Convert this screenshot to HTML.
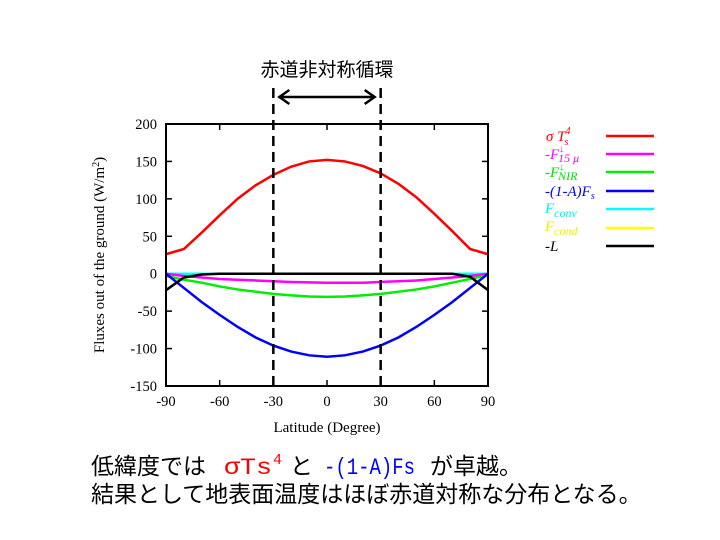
<!DOCTYPE html>
<html><head><meta charset="utf-8"><style>
body{margin:0;background:#fff;}
svg{display:block;font-family:"Liberation Serif","Noto Serif CJK SC",serif;}
.jp{font-family:"Liberation Sans","Noto Sans CJK JP",sans-serif;}
.mono{font-family:"Liberation Mono",monospace;}
</style></head><body>
<svg id="c" width="720" height="540" viewBox="0 0 720 540">
<text class="jp" x="327" y="76" font-size="19" text-anchor="middle">赤道非対称循環</text>
<g id="plot"></g>
<g font-style="italic" font-size="15">
 <g><text x="546" y="141" fill="#f00">σ T<tspan font-size="10" dy="-7">4</tspan><tspan font-size="10" dx="-6" dy="11">s</tspan></text><line x1="606" y1="136" x2="654" y2="136" stroke="#f00" stroke-width="2.5"/></g>
 <g><text x="545" y="159" fill="#f0f">-F<tspan font-size="10" dy="-7">↓</tspan><tspan font-size="12" dx="-6" dy="10">15 μ</tspan></text><line x1="606" y1="154" x2="654" y2="154" stroke="#f0f" stroke-width="2.5"/></g>
 <g><text x="545" y="177" fill="#0d0">-F<tspan font-size="10" dy="-7">↓</tspan><tspan font-size="12" dx="-6" dy="10">NIR</tspan></text><line x1="606" y1="172" x2="654" y2="172" stroke="#0e0" stroke-width="2.5"/></g>
 <g><text x="545" y="196" fill="#00f">-(1-A)F<tspan font-size="10" dy="3">s</tspan></text><line x1="606" y1="191" x2="654" y2="191" stroke="#00f" stroke-width="2.5"/></g>
 <g><text x="545" y="213" fill="#0ee">F<tspan font-size="12" dy="4">conv</tspan></text><line x1="606" y1="209" x2="654" y2="209" stroke="#0ff" stroke-width="2.5"/></g>
 <g><text x="545" y="231" fill="#ee0">F<tspan font-size="12" dy="4">cond</tspan></text><line x1="606" y1="228" x2="654" y2="228" stroke="#ff0" stroke-width="2.5"/></g>
 <g><text x="545" y="251" fill="#000">-L</text><line x1="606" y1="246" x2="654" y2="246" stroke="#000" stroke-width="2.5"/></g>
</g>
<g class="jp" font-size="23">
 <text x="91" y="474">低緯度では</text>
 <text class="mono" x="224" y="474" fill="#f00" textLength="48" lengthAdjust="spacingAndGlyphs">σTs</text>
 <text class="mono" x="273" y="464" fill="#f00" font-size="15">4</text>
 <text x="290" y="474">と</text>
 <text class="mono" x="324" y="474" fill="#00f" textLength="91" lengthAdjust="spacingAndGlyphs">-(1-A)Fs</text>
 <text x="430" y="474">が卓越。</text>
</g>
<text class="jp" x="91" y="502" font-size="23">結果として地表面温度はほぼ赤道対称な分布となる。</text>
</svg>
<script>
const lats=[-90,-80,-70,-60,-50,-40,-30,-20,-10,0,10,20,30,40,50,60,70,80,90];
const sigmaT4=[26,33,55,78,100,118,132,143,150,152,150,144,134,120,102,80,57,33,26];
const f15=[0,-3,-5,-7,-8,-9,-10,-11,-11.5,-12,-12,-12,-11,-10,-9,-7,-5,-3,0];
const fnir=[-3,-8,-12,-17,-21,-24,-27,-29,-30.5,-31,-30.5,-29,-27,-24,-21,-17,-12,-7,-2];
const fs=[0,-19,-38,-55,-71,-85,-96,-104,-109,-111,-109,-104,-96,-85,-71,-55,-38,-19,0];
const fconv=[0,0,0,0,0,0,0,0,0,0,0,0,0,0,0,0,0,0,0];
const fcond=[0,0,0,0,0,0,0,0,0,0,0,0,0,0,0,0,0,0,0];
const negL=[-22,-5,-1,0,0,0,0,0,0,0,0,0,0,0,0,0,0,-4,-22];
const xTicks=[-90,-60,-30,0,30,60,90];
const yTicks=[200,150,100,50,0,-50,-100,-150];
const X0=166,X1=488,Y0=124,Y1=386;
const sx=v=>X0+(v+90)/180*(X1-X0);
const sy=v=>Y0+(200-v)/350*(Y1-Y0);
const NS='http://www.w3.org/2000/svg';
const g=document.getElementById('plot');
function mk(t,a){const e=document.createElementNS(NS,t);for(const k in a)e.setAttribute(k,a[k]);g.appendChild(e);return e;}
for(const t of xTicks){
 const a=mk('line',{x1:sx(t),y1:Y1,x2:sx(t),y2:Y1-6,stroke:'#000','stroke-width':1.5});
 
 
 const b=mk('line',{x1:sx(t),y1:Y0,x2:sx(t),y2:Y0+6,stroke:'#000','stroke-width':1.5});
 
 
 const l=mk('text',{x:sx(t),y:Y1+20,'font-size':14.5,'text-anchor':'middle'});l.textContent=t;
 
 
}
for(const t of yTicks){
 const a=mk('line',{x1:X0,y1:sy(t),x2:X0+6,y2:sy(t),stroke:'#000','stroke-width':1.5});
 
 
 const b=mk('line',{x1:X1,y1:sy(t),x2:X1-6,y2:sy(t),stroke:'#000','stroke-width':1.5});
 
 
 const l=mk('text',{x:X0-9,y:sy(t)+5,'font-size':14.5,'text-anchor':'end'});l.textContent=t;
 
 
}
const xt=mk('text',{x:(X0+X1)/2,y:Y1+46,'font-size':15,'text-anchor':'middle'});xt.textContent='Latitude (Degree)';


const yt=mk('text',{x:0,y:0,'font-size':15,'text-anchor':'middle',transform:`translate(104,${(Y0+Y1)/2}) rotate(-90)`});
yt.innerHTML='Fluxes out of the ground (W/m<tspan font-size="10" dy="-5">2</tspan><tspan dy="5">)</tspan>';


const series=[[fcond,'#ff0','series-fcond'],[fconv,'#0ff','series-fconv'],[f15,'#f0f','series-f15'],[fnir,'#0e0','series-fnir'],[fs,'#00f','series-fs'],[negL,'#000','series-neg-l'],[sigmaT4,'#f00','series-sigma-t4']];
for(const [d,c,n] of series){
 const p=mk('polyline',{points:d.map((v,i)=>sx(lats[i])+','+sy(v)).join(' '),fill:'none',stroke:c,'stroke-width':2.5});
 
 
}
for(const t of [-30,30]){
 const d=mk('line',{x1:sx(t),y1:88,x2:sx(t),y2:Y1,stroke:'#000','stroke-width':2.5,'stroke-dasharray':'10,6'});
 
 
}
const ar=mk('path',{d:`M${sx(-30)+6},97 H${sx(30)-6} M${sx(-30)+16},90 L${sx(-30)+6},97 L${sx(-30)+16},104 M${sx(30)-16},90 L${sx(30)-6},97 L${sx(30)-16},104`,fill:'none',stroke:'#000','stroke-width':2.5});


const fr=mk('rect',{x:X0,y:Y0,width:X1-X0,height:Y1-Y0,fill:'none',stroke:'#000','stroke-width':2});


</script>
</body></html>
